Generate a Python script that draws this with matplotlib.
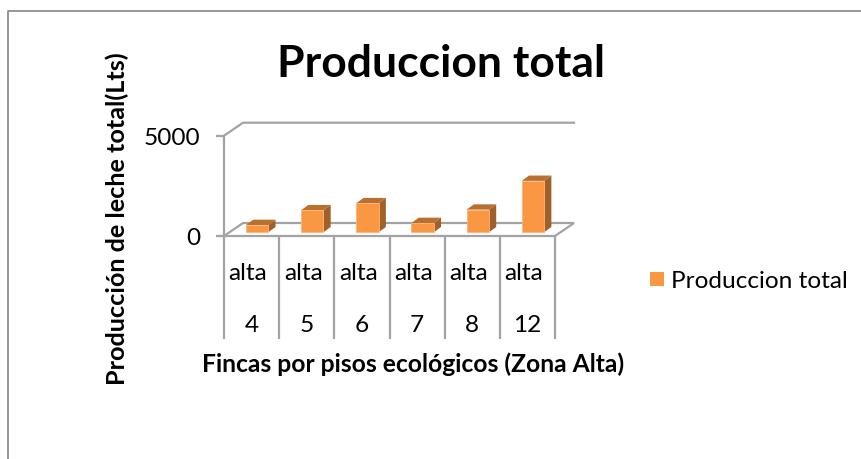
import matplotlib
matplotlib.use("Agg")
import matplotlib.pyplot as plt
from matplotlib.patches import Polygon, Rectangle

plt.rcParams['font.family'] = ['Lato', 'DejaVu Sans']

title = "Produccion total"
series_name = "Produccion total"
ylabel = "Producción de leche total(Lts)"
xlabel = "Fincas por pisos ecológicos (Zona Alta)"
floors = ["alta", "alta", "alta", "alta", "alta", "alta"]
fincas = ["4", "5", "6", "7", "8", "12"]
values = [365, 1100, 1450, 465, 1130, 2565]
yticks = [0, 5000]

W, H = 861, 460
GRAY = "#A3A3A3"
FRONT, SIDE, TOP = "#FA9742", "#A0602A", "#B9702F"
LW = 1.6
FS = 17.6

fig = plt.figure(figsize=(W / 100, H / 100), dpi=100)
fig.patch.set_facecolor("white")

# Outer frame: only top and left are visible in the crop
fig.add_artist(plt.Line2D([8 / W, 8 / W, 1], [0, 1 - 12 / H, 1 - 12 / H],
                          color="#858585", lw=1.2, transform=fig.transFigure))

L, R, Y0, Y1 = 224, 555, 237, 136.7
ax = fig.add_axes([L / W, 1 - Y0 / H, (R - L) / W, (Y0 - Y1) / H])
ax.set_xlim(0, len(values))
ax.set_ylim(0, yticks[-1])
ax.patch.set_alpha(0)
for s in ("top", "right"):
    ax.spines[s].set_visible(False)
for s in ("left", "bottom"):
    ax.spines[s].set_color(GRAY)
    ax.spines[s].set_linewidth(LW)

# pixel -> data unit conversion for the oblique depth
ux = len(values) / (R - L)
uy = yticks[-1] / (Y0 - Y1)
dx, dy = 19 * ux, 13 * uy          # floor depth
bx, by = 5.5 * ux, 3.7 * uy        # bar front offset into the floor
tx, ty = 7.3 * ux, 5.3 * uy        # bar depth
n = len(values)

# Floor and back wall edges
ax.add_patch(Polygon([(0, 0), (dx, dy), (n + dx, dy), (n, 0)], closed=False,
                     fill=False, edgecolor=GRAY, lw=LW, clip_on=False))
ax.plot([0, dx, n + dx], [yticks[-1], yticks[-1] + dy, yticks[-1] + dy],
        color=GRAY, lw=LW, clip_on=False)

# Bars
bw = 22.3 * ux
for i, v in enumerate(values):
    x0 = i + 0.5 - bw / 2 + bx
    y0 = by
    x1 = x0 + bw
    y1 = by + v
    ax.add_patch(Polygon([(x1, y0), (x1 + tx, y0 + ty), (x1 + tx, y1 + ty), (x1, y1)],
                         facecolor=SIDE, edgecolor="none", clip_on=False, zorder=3))
    ax.add_patch(Polygon([(x0, y1), (x0 + tx, y1 + ty), (x1 + tx, y1 + ty), (x1, y1)],
                         facecolor=TOP, edgecolor="none", clip_on=False, zorder=3))
    ax.add_patch(Rectangle((x0, y0), bw, v, facecolor=FRONT, edgecolor="#FDB57A",
                           lw=0.6, clip_on=False, zorder=4))

# Axis ticks and labels
ax.set_yticks(yticks)
ax.set_yticklabels([str(t) for t in yticks], fontsize=FS, color="black")
ax.tick_params(axis="y", length=5.8, width=LW, color=GRAY, pad=11.5)

ax.set_xticks(range(n + 1))
ax.set_xticklabels([])
ax.tick_params(axis="x", which="major", length=74, width=LW, color=GRAY)
ax.set_xticks([i + 0.5 for i in range(n)], minor=True)
ax.set_xticklabels(fincas, minor=True, fontsize=FS)
ax.tick_params(axis="x", which="minor", length=0, pad=56)

for i, s in enumerate(floors):
    ax.annotate(s, xy=(i + 0.5, 0), xycoords="data", xytext=(-2.5, -26), textcoords="offset points",
                ha="center", va="center", fontsize=FS)

fig.text(441 / W, 1 - 64 / H, title, fontsize=32, fontweight="bold", ha="center", va="center")
fig.text(117 / W, 1 - 219 / H, ylabel, fontsize=18.2, fontweight="bold", rotation=90,
         ha="center", va="center")
fig.text(413 / W, 1 - 364 / H, xlabel, fontsize=17.7, fontweight="bold", ha="center", va="center")

# Legend
fig.add_artist(Rectangle((650 / W, 1 - 287 / H), 14 / W, 14 / H, facecolor=FRONT,
                         edgecolor="none", transform=fig.transFigure))
fig.text(671 / W, 1 - 281 / H, series_name, fontsize=FS, ha="left", va="center")

fig.savefig("out.png", dpi=100)
